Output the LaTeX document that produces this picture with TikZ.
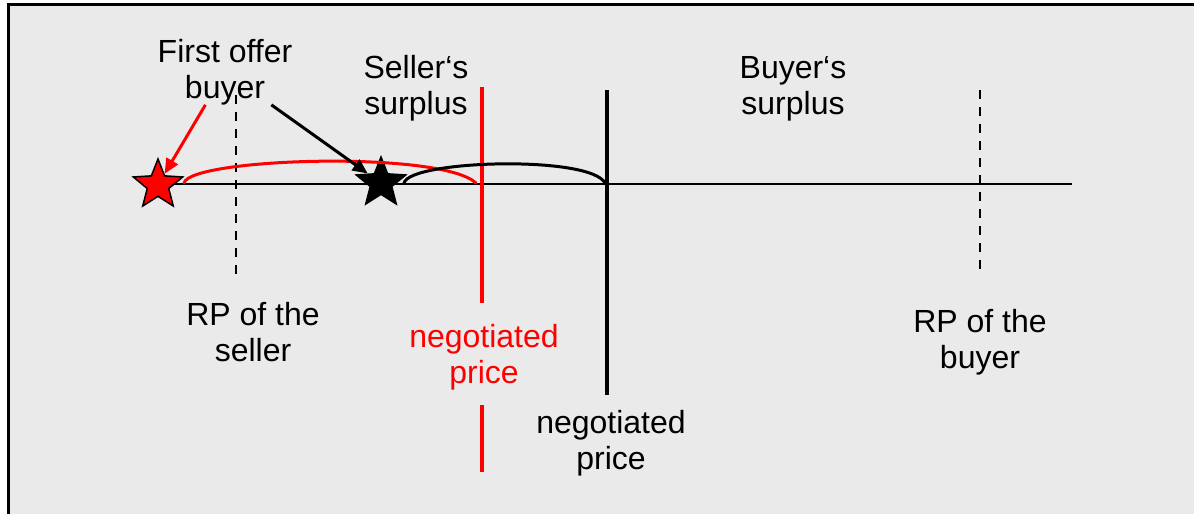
\documentclass[tikz,border=0pt]{standalone}
\usepackage{fontspec}
\setmainfont{Liberation Sans}
\usetikzlibrary{shapes.geometric,arrows.meta}
\definecolor{bgc}{HTML}{EAEAEA}
\definecolor{pred}{HTML}{FF0000}
\begin{document}
\begin{tikzpicture}[x=1pt,y=-1pt,
  lbl/.style={font=\fontsize{32}{36}\selectfont, align=center, inner sep=0pt, anchor=base},
  starnode/.style={star, star points=5, star point ratio=2.3, inner sep=0pt, line width=1.5pt, draw=black},
  arc/.style={line width=3pt, line cap=round},
  pointer/.style={line width=3pt, -{Triangle[length=15pt,width=13pt]}},
  dashline/.style={line width=2pt, dash pattern=on 9pt off 8pt},
  solidline/.style={line width=4pt}]
\useasboundingbox (0,0) rectangle (1194,514);
\fill[bgc] (8,5) rectangle (1194,514);
\draw[line width=3pt] (8,514) -- (8,4.5) -- (1194,4.5);

% axis
\coordinate (axL) at (158,184);
\coordinate (axR) at (1072,184);
\draw[line width=2pt] (axL) -- (axR);

% reservation points (dashed)
\draw[dashline] (236,95) -- (236,275);
\draw[dashline] (980,90) -- (980,275);

% negotiated prices
\draw[solidline, pred] (482,87) -- (482,303);
\draw[solidline, pred] (482,405) -- (482,472);
\draw[solidline] (607,90) -- (607,395);

% stars
\node[starnode, fill=pred, minimum size=52pt] (rs) at (158,185) {};
\node[starnode, fill=black, minimum size=52pt] (bs) at (381,183) {};

% arcs
\coordinate (ra1) at (184,183);
\coordinate (ra2) at (476,183);
\coordinate (ba1) at (404,183);
\coordinate (ba2) at (605,183);
\draw[arc, pred] (ra1) .. controls (190,158) and (440,150) .. (ra2);
\draw[arc] (ba1) .. controls (410,160) and (590,155) .. (ba2);

% labels (base = baseline of last line)
\node[lbl] (fo) at (225,98) {First offer\\buyer};
\node[lbl] (ss) at (416,114) {Seller‘s\\surplus};
\node[lbl] (bsu) at (793,114) {Buyer‘s\\surplus};
\node[lbl] (rps) at (253,361) {RP of the\\seller};
\node[lbl, text=pred] (npr) at (484,383) {negotiated\\price};
\node[lbl] (npb) at (611,469) {negotiated\\price};
\node[lbl] (rpb) at (980,368) {RP of the\\buyer};

% pointers
\draw[pointer, pred] (fo) -- (rs);
\draw[pointer] (fo) -- (bs);
\end{tikzpicture}
\end{document}
